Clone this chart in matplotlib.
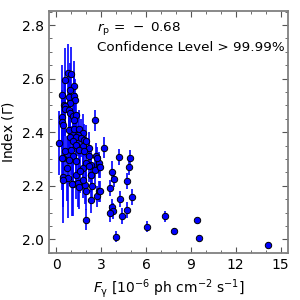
import numpy as np
import matplotlib
matplotlib.use("Agg")
import matplotlib.pyplot as plt
from matplotlib.ticker import MultipleLocator

# flux (1e-6 ph cm^-2 s^-1), photon index, index error
flux = [0.80, 0.98, 0.58, 1.15, 0.91, 0.38, 0.82, 1.20, 1.27, 0.91, 0.53,
        0.58, 0.58, 0.82, 0.93, 1.13, 0.35, 0.38, 0.42, 1.31, 1.20,
        0.87, 1.20, 1.53, 1.76, 1.42, 0.91, 1.31, 1.64, 1.87, 1.13,
        1.31, 1.76, 2.15, 1.98, 0.20, 0.58, 0.98, 1.53, 1.87, 2.20,
        2.64, 2.87, 1.09, 1.31, 0.87, 1.98, 2.31, 0.42, 2.58, 3.22,
        0.42, 0.80, 0.42, 1.09, 1.42, 1.53, 1.93, 1.98, 2.31, 2.75,
        2.82, 2.36, 2.31, 1.98, 1.31, 1.76, 1.76, 2.15, 2.87, 0.38,
        2.71, 2.60, 2.33, 2.93, 1.05, 0.70, 1.60,
        4.20, 4.91, 3.75, 4.87, 3.84, 4.75, 3.62, 5.07, 4.24, 2.93,
        3.71, 3.80, 3.58, 4.75, 4.36, 6.05, 3.96,
        7.27, 7.89, 9.44, 9.56, 14.13]
index = [2.620, 2.618, 2.595, 2.574, 2.558, 2.540, 2.530, 2.536, 2.520, 2.508, 2.500,
         2.499, 2.486, 2.484, 2.471, 2.461, 2.456, 2.439, 2.428, 2.465, 2.447,
         2.407, 2.412, 2.412, 2.397, 2.391, 2.384, 2.384, 2.378, 2.372, 2.366,
         2.353, 2.350, 2.341, 2.366, 2.360, 2.331, 2.332, 2.335, 2.329, 2.310,
         2.310, 2.285, 2.310, 2.291, 2.298, 2.285, 2.279, 2.304, 2.444, 2.343,
         2.232, 2.230, 2.223, 2.207, 2.211, 2.195, 2.202, 2.180, 2.149, 2.161,
         2.180, 2.198, 2.239, 2.074, 2.242, 2.223, 2.267, 2.273, 2.270, 2.304,
         2.304, 2.258, 2.240, 2.270, 2.207, 2.265, 2.255,
         2.308, 2.303, 2.253, 2.272, 2.226, 2.217, 2.192, 2.159, 2.151, 2.180,
         2.120, 2.105, 2.097, 2.110, 2.087, 2.048, 2.010,
         2.086, 2.033, 2.071, 2.004, 1.979]
index_err = [0.11, 0.10, 0.12, 0.09, 0.10, 0.11, 0.09, 0.08, 0.08, 0.09, 0.10,
             0.10, 0.10, 0.09, 0.09, 0.08, 0.10, 0.10, 0.10, 0.08, 0.08,
             0.09, 0.08, 0.07, 0.07, 0.08, 0.09, 0.08, 0.07, 0.06, 0.09,
             0.08, 0.07, 0.06, 0.06, 0.12, 0.10, 0.09, 0.07, 0.06, 0.05,
             0.05, 0.04, 0.09, 0.08, 0.09, 0.06, 0.05, 0.12, 0.04, 0.04,
             0.17, 0.15, 0.10, 0.12, 0.09, 0.08, 0.07, 0.07, 0.05, 0.04,
             0.04, 0.05, 0.06, 0.04, 0.09, 0.07, 0.07, 0.06, 0.04, 0.12,
             0.04, 0.05, 0.05, 0.04, 0.12, 0.12, 0.08,
             0.03, 0.03, 0.04, 0.03, 0.03, 0.03, 0.03, 0.03, 0.03, 0.04,
             0.03, 0.03, 0.03, 0.03, 0.03, 0.02, 0.02,
             0.02, 0.01, 0.01, 0.01, 0.01]

fig = plt.figure(figsize=(3, 3), dpi=100)
ax = fig.add_axes([0.163, 0.157, 0.797, 0.806])

ax.errorbar(flux, index, yerr=index_err, fmt='o', color='blue',
            ecolor='blue', elinewidth=1.2, capsize=0,
            markersize=4.6, markeredgecolor='black', markeredgewidth=0.7)

ax.set_xlim(-0.5, 15.5)
ax.set_ylim(1.95, 2.852)
ax.xaxis.set_major_locator(MultipleLocator(3))
ax.xaxis.set_minor_locator(MultipleLocator(1))
ax.yaxis.set_major_locator(MultipleLocator(0.2))
ax.yaxis.set_minor_locator(MultipleLocator(0.05))
ax.tick_params(which='both', direction='in', top=True, right=True,
               labelsize=10, color='#555555')
ax.tick_params(which='major', length=4)
ax.tick_params(which='minor', length=2)
for s in ax.spines.values():
    s.set_color('#808080')
    s.set_linewidth(1.3)

ax.set_xlabel(r'$F_{\rm \gamma}$ [10$^{-6}$ ph cm$^{-2}$ s$^{-1}$]', fontsize=10)
ax.set_ylabel(r'Index ($\Gamma$)', fontsize=10)

ax.text(0.2, 0.93, r'$r_{\rm p}\,=\,-\;0.68$', transform=ax.transAxes,
        fontsize=9.7, va='center')
ax.text(0.2, 0.85, 'Confidence Level > 99.99%', transform=ax.transAxes,
        fontsize=9.7, va='center')

fig.savefig('out.png', dpi=100)
